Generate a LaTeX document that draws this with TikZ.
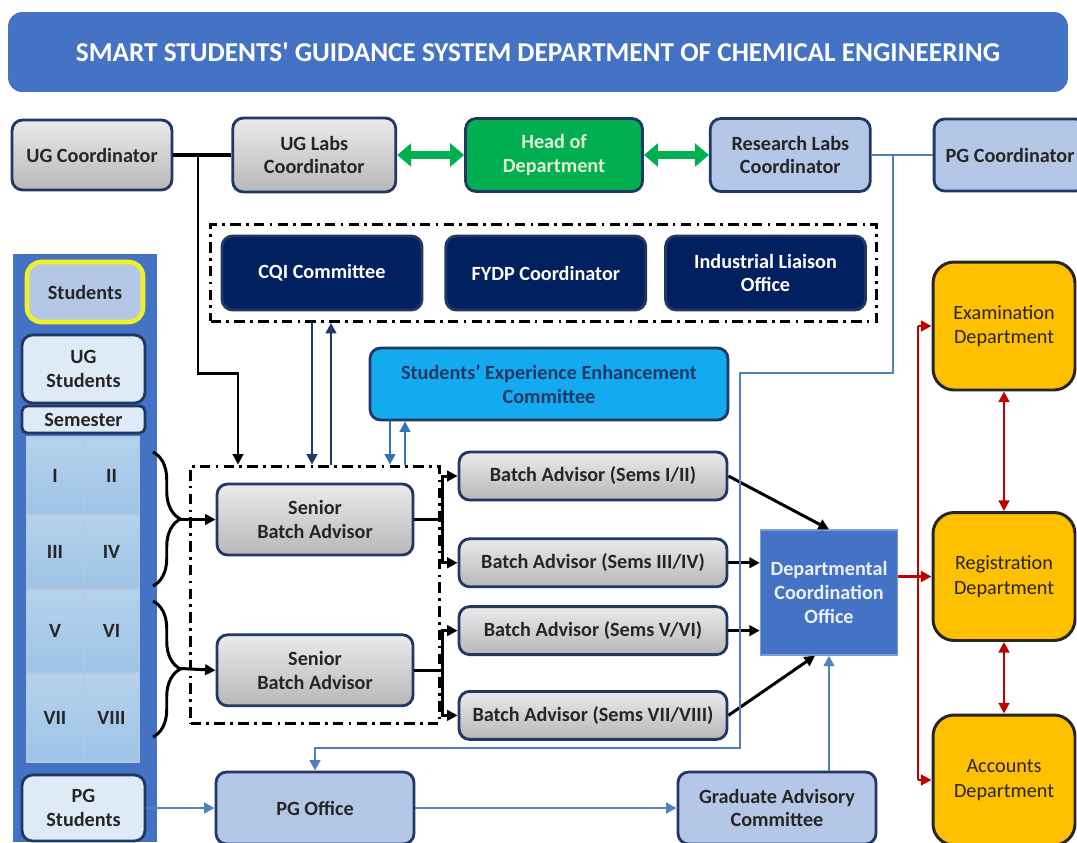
\documentclass[tikz,border=0pt]{standalone}
\usepackage{fontspec}
\setmainfont{Carlito}[Ligatures=TeXOff]
\usetikzlibrary{arrows.meta, positioning, fit, backgrounds, calc, decorations.pathreplacing}

\definecolor{navyline}{RGB}{31,56,100}
\definecolor{committeenavy}{RGB}{0,32,96}
\definecolor{titleblue}{RGB}{68,114,196}
\definecolor{paleblue}{RGB}{180,199,231}
\definecolor{iceblue}{RGB}{222,235,247}
\definecolor{cellblue}{RGB}{157,195,230}
\definecolor{seecblue}{RGB}{20,170,240}
\definecolor{hodgreen}{RGB}{0,176,80}
\definecolor{hodtext}{RGB}{226,240,217}
\definecolor{deptgold}{RGB}{255,192,0}
\definecolor{deptred}{RGB}{192,0,0}
\definecolor{lineblue}{RGB}{79,129,189}
\definecolor{arrowblue}{RGB}{46,117,182}
\definecolor{studyellow}{RGB}{240,240,40}
\definecolor{textgrey}{RGB}{38,38,38}
\definecolor{dcotext}{RGB}{235,241,250}

\begin{document}
\begin{tikzpicture}[
      x=0.02cm, y=-0.02cm,
      boxfont/.style={font=\bfseries\fontsize{11.5}{13.5}\selectfont},
      office/.style={rectangle, draw=navyline, line width=1.6pt, rounded corners=6pt, align=center, boxfont, text=textgrey, inner sep=2pt},
      greybox/.style={office, top color=black!8, bottom color=black!28},
      palebox/.style={office, fill=paleblue},
      committee/.style={office, fill=committeenavy, text=white, minimum width=4cm, minimum height=1.48cm},
      batch/.style={greybox, minimum width=5.36cm, minimum height=0.96cm},
      senior/.style={greybox, minimum width=3.92cm, minimum height=1.42cm},
      studbox/.style={office, fill=iceblue, minimum width=2.46cm},
      cell/.style={rectangle, top color=cellblue!75, bottom color=cellblue, draw=paleblue, line width=0.6pt, minimum width=1.13cm, boxfont, text=textgrey},
      dept/.style={rectangle, draw=black!85, line width=1.7pt, rounded corners=12pt, fill=deptgold, align=center, font=\fontsize{11.5}{14}\selectfont, text=textgrey, minimum width=2.84cm, minimum height=2.56cm},
      dashdot/.style={draw=black, line width=1.7pt, dash pattern=on 6pt off 3pt on 1.5pt off 3pt},
      greenarrow/.style={{Triangle[length=8pt,width=13pt]}-{Triangle[length=8pt,width=13pt]}, line width=5pt, draw=hodgreen},
      arrow/.style={-{Triangle[length=6pt,width=6pt]}, line width=1.7pt},
      blueline/.style={draw=lineblue, line width=1.6pt},
      bluearrow/.style={-{Triangle[length=6pt,width=6pt]}, blueline},
      redline/.style={draw=deptred, line width=1.6pt},
      redarrow/.style={-{Triangle[length=6pt,width=6pt]}, redline},
      reddouble/.style={{Triangle[length=6pt,width=6pt]}-{Triangle[length=6pt,width=6pt]}, redline}
      ]

      \useasboundingbox (0,0) rectangle (1077,842);
      \fill[white] (0,0) rectangle (1077,842);

      % Title
      \node[rectangle, fill=titleblue, rounded corners=8pt, minimum width=21.2cm, minimum height=1.6cm, text=white, font=\bfseries\fontsize{15.5}{18}\selectfont] (title) at (538,52) {SMART STUDENTS' GUIDANCE SYSTEM DEPARTMENT OF CHEMICAL ENGINEERING};

      % Top row
      \node[greybox, minimum width=3.2cm, minimum height=1.4cm] (ugc) at (92,155) {UG Coordinator};
      \node[greybox, minimum width=3.26cm, minimum height=1.48cm, right=1.16cm of ugc] (uglab) {UG Labs\\Coordinator};
      \node[office, fill=hodgreen, text=hodtext, minimum width=3.54cm, minimum height=1.46cm, right=1.34cm of uglab] (hod) {Head of\\Department};
      \node[palebox, minimum width=3.2cm, minimum height=1.46cm, right=1.3cm of hod] (rlab) {Research Labs\\Coordinator};
      \node[palebox, minimum width=3.04cm, minimum height=1.44cm, right=1.22cm of rlab] (pgc) {PG Coordinator};

      % Committees
      \node[committee] (cqi) at (322,273) {CQI Committee};
      \node[committee, right=0.42cm of cqi] (fydp) {FYDP Coordinator};
      \node[committee, right=0.34cm of fydp] (ilo) {Industrial Liaison\\Office};
      \node[dashdot, fit=(cqi)(fydp)(ilo), inner sep=0.2cm] (cbox) {};

      % Enhancement committee
      \node[office, fill=seecblue, text=navyline, minimum width=7.16cm, minimum height=1.44cm] (seec) at (549,384) {Students’ Experience Enhancement\\Committee};

      % Students column
      \node[rectangle, fill=titleblue, minimum width=2.88cm, minimum height=11.76cm] (panel) at (85,548) {};
      \node[office, fill=paleblue, draw=studyellow, line width=2.6pt, rounded corners=8pt, minimum width=2.32cm, minimum height=1.2cm] (stud) at (85,292) {Students};
      \node[studbox, minimum height=1.36cm] (ugstud) at (83.5,369) {UG\\Students};
      \node[studbox, rounded corners=3pt, minimum height=0.54cm, inner sep=1pt] (sem) at (83.5,419.5) {Semester};
      \node[cell, minimum height=1.56cm] (s1) at (55,476) {I};
      \node[cell, minimum height=1.56cm] (s2) at (111.5,476) {II};
      \node[cell, minimum height=1.48cm] (s3) at (55,552) {III};
      \node[cell, minimum height=1.48cm] (s4) at (111.5,552) {IV};
      \node[cell, minimum height=1.68cm] (s5) at (55,631) {V};
      \node[cell, minimum height=1.68cm] (s6) at (111.5,631) {VI};
      \node[cell, minimum height=1.78cm] (s7) at (55,717.5) {VII};
      \node[cell, minimum height=1.78cm] (s8) at (111.5,717.5) {VIII};
      \node[studbox, minimum height=1.32cm] (pgstud) at (83.5,808) {PG\\Students};

      % Senior batch advisors
      \node[senior] (sba1) at (315,519.5) {Senior\\Batch Advisor};
      \node[senior, below=1.54cm of sba1] (sba2) {Senior\\Batch Advisor};
      \node[dashdot, fit=(sba1)(sba2), inner xsep=0.5cm, inner ysep=0.33cm] (sbox) {};

      % Batch advisors
      \node[batch] (ba1) at (593,476) {Batch Advisor (Sems I/II)};
      \node[batch, below=0.72cm of ba1] (ba2) {Batch Advisor (Sems III/IV)};
      \node[batch, below=0.34cm of ba2] (ba3) {Batch Advisor (Sems V/VI)};
      \node[batch, below=0.68cm of ba3] (ba4) {Batch Advisor (Sems VII/VIII)};

      % Coordination office
      \node[rectangle, fill=titleblue, draw=titleblue!70!white, line width=0.8pt, minimum width=2.74cm, minimum height=2.5cm, align=center, boxfont, text=dcotext] (dco) at (829,592.5) {Departmental\\Coordination\\Office};

      % Departments
      \node[dept] (exam) at (1004,326) {Examination\\Department};
      \node[dept] (reg) at (1004,576.5) {Registration\\Department};
      \node[dept, minimum height=2.6cm] (acc) at (1004,780) {Accounts\\Department};

      % PG side
      \node[palebox, minimum width=3.96cm, minimum height=1.44cm] (pgo) at (315,808) {PG Office};
      \node[palebox, minimum width=3.96cm, minimum height=1.44cm] (gac) at (777,808) {Graduate Advisory\\Committee};

      % Green links
      \draw[greenarrow] (uglab.east) -- (uglab.east -| hod.west);
      \draw[greenarrow] (hod.east) -- (hod.east -| rlab.west);
      \begin{scope}[on background layer]
        \coordinate (hodaxis) at (557,0);
        \draw[greenarrow] (hod.south -| hodaxis) -- (seec.north -| hodaxis);
      \end{scope}

      % UG coordinator to senior advisors
      \coordinate (ugjoin) at (198,155);
      \coordinate (ugbend) at (238,373);
      \draw[line width=1.8pt] (ugc.east) -- (uglab.west);
      \draw[arrow] (ugjoin) |- (ugbend) -- (ugbend |- sbox.north);

      % Committees and senior advisors
      \coordinate (cqidown) at (312,0);
      \coordinate (cqiup) at (331,0);
      \draw[arrow, draw=navyline] (cbox.south -| cqidown) -- (sbox.north -| cqidown);
      \draw[arrow, draw=navyline] (sbox.north -| cqiup) -- (cbox.south -| cqiup);
      \coordinate (seecdown) at (390,0);
      \coordinate (seecup) at (405,0);
      \draw[arrow, draw=arrowblue, line width=1.4pt] (seec.south -| seecdown) -- (sbox.north -| seecdown);
      \draw[arrow, draw=arrowblue, line width=1.4pt] (sbox.north -| seecup) -- (seec.south -| seecup);

      % Semester braces
      \draw[decorate, decoration={brace, amplitude=0.55cm}, line width=1.7pt] (153,452) -- (153,586);
      \draw[decorate, decoration={brace, amplitude=0.55cm}, line width=1.7pt] (153,601) -- (153,737);
      \coordinate (brace1) at (181,519.5);
      \coordinate (brace2) at (181,668.5);
      \draw[arrow] (brace1) -- (sba1.west);
      \draw[arrow] (brace2) -- (sba2.west);

      % Senior to batch advisors
      \coordinate (fork) at (442,0);
      \draw[line width=1.7pt] (sba1.east) -- (sba1.east -| fork);
      \draw[line width=1.7pt] (sba2.east) -- (sba2.east -| fork);
      \draw[arrow] (sba1.east -| fork) |- (ba1.west);
      \draw[arrow] (sba1.east -| fork) |- (ba2.west);
      \draw[arrow] (sba2.east -| fork) |- (ba3.west);
      \draw[arrow] (sba2.east -| fork) |- (ba4.west);

      % Batch advisors to coordination office
      \draw[arrow] (ba1.east) -- (dco.north);
      \draw[arrow] (ba2.east) -- (ba2.east -| dco.west);
      \draw[arrow] (ba3.east) -- (ba3.east -| dco.west);
      \draw[arrow] (ba4.east) -- ([xshift=-0.28cm]dco.south);

      % PG route
      \coordinate (pgjoin) at (893,0);
      \coordinate (pgbend1) at (740,373);
      \coordinate (pgbend2) at (740,748);
      \draw[blueline] (rlab.east) -- (rlab.east -| pgc.west);
      \draw[bluearrow] (rlab.east -| pgjoin) |- (pgbend1) -- (pgbend2) -| (pgo.north);
      \draw[bluearrow] (pgstud.east) -- (pgo.west);
      \draw[bluearrow] (pgo.east) -- (gac.west);
      \draw[bluearrow] (gac.north -| dco.south) -- (dco.south);

      % Departments
      \coordinate (rail) at (918,0);
      \draw[redline] (exam.west -| rail) -- (acc.west -| rail);
      \draw[redarrow] (dco.east |- reg.west) -- (reg.west);
      \draw[redarrow] (exam.west -| rail) -- (exam.west);
      \draw[redarrow] (acc.west -| rail) -- (acc.west);
      \draw[reddouble] (exam.south) -- (reg.north);
      \draw[reddouble] (reg.south) -- (acc.north);

   \end{tikzpicture}
\end{document}
